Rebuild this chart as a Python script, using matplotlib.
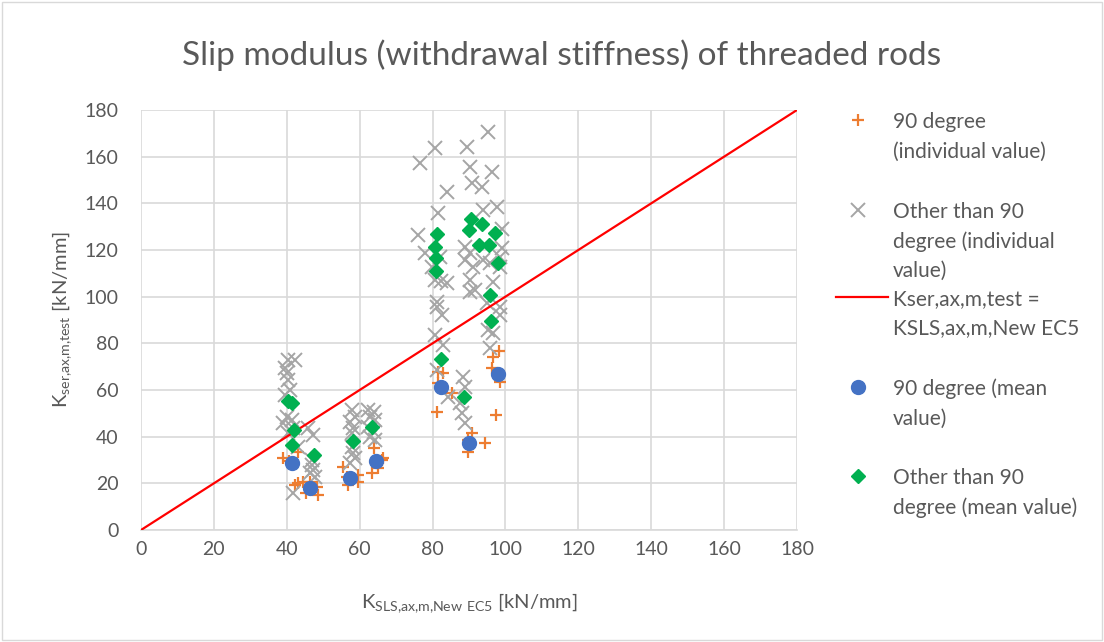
import matplotlib
matplotlib.use("Agg")
import matplotlib.pyplot as plt
from matplotlib.lines import Line2D
from matplotlib.patches import Rectangle

plt.rcParams['font.family'] = ['Lato', 'DejaVu Sans']
plt.rcParams['mathtext.default'] = 'regular'

TXT = '#595959'
GRID = '#d9d9d9'

# 90 degree, individual values
deg90_x = [39.0, 43.2, 40.5, 43.2, 44.5, 42.3, 45.3, 48.2, 48.7, 46.5,
           55.5, 56.4, 59.6, 59.6, 56.9, 63.8, 66.0, 65.1, 63.3, 66.5,
           81.6, 83.0, 81.6, 85.3, 81.1,
           89.8, 90.7, 94.4, 89.8, 98.3, 96.7, 96.2, 98.5, 97.4]
deg90_y = [30.7, 33.6, 29.5, 20.0, 20.7, 19.3, 15.7, 18.6, 15.0, 20.5,
           27.1, 22.8, 23.6, 20.7, 19.3, 35.0, 30.0, 26.4, 24.3, 31.0,
           67.9, 67.2, 62.9, 58.6, 50.7,
           38.6, 41.4, 37.1, 33.6, 76.9, 74.3, 69.3, 63.6, 49.3]

# other than 90 degree, individual values
other_x = [40.4, 42.3, 39.5, 40.0, 40.4, 40.9, 39.5, 40.0, 41.4, 39.0, 41.8, 40.4, 43.2, 41.8,
           45.9, 47.3, 46.8, 47.3, 46.4, 47.7, 47.0,
           57.8, 58.7, 57.4, 58.3, 57.8, 57.8, 58.3, 58.7, 57.4,
           62.4, 63.8, 62.8, 64.2, 62.4, 63.8, 62.8, 64.2,
           80.7, 76.6, 83.9, 81.6, 76.1, 77.9, 82.0, 79.8, 80.7, 83.9, 81.1,
           81.1, 82.5, 80.7, 83.0, 81.1, 84.3, 82.3,
           95.3, 89.4, 90.2, 96.2, 90.7, 93.5, 93.9, 97.6,
           88.9, 90.3, 88.9, 91.2, 93.9, 95.8, 98.5, 98.5, 90.3, 96.7, 90.3, 91.7, 94.9,
           98.5, 95.3, 96.7, 95.8, 88.4, 88.9, 87.5, 88.0, 88.9, 99.0, 99.0, 98.5]
other_y = [72.9, 72.9, 69.3, 67.1, 64.3, 60.0, 57.9, 48.6, 47.1, 45.7, 43.6, 41.4, 35.7, 16.0,
           43.6, 40.7, 27.9, 25.7, 24.3, 22.9, 30.0,
           51.4, 48.6, 46.4, 43.6, 41.4, 35.7, 32.9, 30.7, 28.6,
           51.4, 50.7, 48.6, 47.1, 44.3, 42.1, 40.0, 38.6,
           163.6, 157.1, 145.0, 135.7, 126.4, 118.6, 117.1, 112.9, 107.1, 105.7, 97.9,
           95.7, 92.1, 83.6, 79.3, 68.6, 57.1, 106.7,
           170.7, 164.3, 155.7, 153.6, 148.6, 147.1, 137.1, 138.6,
           121.4, 118.6, 115.7, 112.9, 115.7, 114.3, 117.1, 112.9, 107.1, 106.4, 102.1, 102.9, 97.1,
           95.7, 85.7, 84.3, 77.9, 65.7, 61.4, 54.3, 50.0, 45.7, 129.0, 121.0, 92.0]

# 90 degree, mean values
mean90_x = [41.5, 46.5, 57.4, 64.5, 82.2, 90.0, 97.9]
mean90_y = [28.8, 17.9, 22.5, 29.4, 61.3, 37.4, 66.9]

# other than 90 degree, mean values
mean_other_x = [40.3, 41.5, 42.0, 41.5, 47.4, 58.1, 63.3,
                81.3, 80.7, 80.9, 80.9, 82.2, 88.6,
                90.5, 90.0, 93.7, 97.0, 92.8, 95.5, 97.9, 95.8, 96.0]
mean_other_y = [55.5, 54.5, 42.9, 36.4, 32.1, 38.3, 44.0,
                126.7, 121.4, 116.4, 111.1, 73.2, 57.1,
                133.2, 128.6, 131.0, 127.4, 122.2, 122.2, 114.6, 100.7, 89.7]

ref_line = [0, 180]

fig = plt.figure(figsize=(11.04, 6.42), dpi=100)
ax = fig.add_axes([141 / 1104, 1 - 530 / 642, 656 / 1104, 420 / 642])

ax.plot(deg90_x, deg90_y, linestyle='none', marker='+', ms=9, mew=1.6, color='#ED7D31', zorder=3)
ax.plot(other_x, other_y, linestyle='none', marker='x', ms=9.5, mew=1.4, color='#A5A5A5', zorder=3)
ax.plot(ref_line, ref_line, color='#FF0000', lw=1.6, zorder=4)
ax.plot(mean90_x, mean90_y, linestyle='none', marker='o', ms=10, color='#4472C4', zorder=5)
ax.plot(mean_other_x, mean_other_y, linestyle='none', marker='D', ms=7, color='#00B050', zorder=6)

ax.set_xlim(0, 180)
ax.set_ylim(0, 180)
ax.set_xticks(range(0, 181, 20))
ax.set_yticks(range(0, 181, 20))
ax.grid(True, color=GRID, lw=1.2)
ax.set_axisbelow(True)
for s in ['top', 'right', 'left']:
    ax.spines[s].set_visible(False)
ax.spines['bottom'].set_color(GRID)
ax.spines['bottom'].set_linewidth(1.2)
ax.tick_params(length=0, labelsize=14, labelcolor=TXT)
ax.tick_params(axis='y', pad=16)
ax.tick_params(axis='x', pad=8)

ax.set_xlabel(r'K$_{SLS{,}ax{,}m{,}New\ EC5}$ [kN/mm]', fontsize=14.5, color=TXT, labelpad=24)
ax.set_ylabel(r'K$_{ser{,}ax{,}m{,}test}$ [kN/mm]', fontsize=14.5, color=TXT, labelpad=8)

fig.text(0.509, 1 - 55 / 642, 'Slip modulus (withdrawal stiffness) of threaded rods',
         ha='center', va='center', fontsize=24, color=TXT)

# legend, drawn by hand so the markers sit on the first text line
leg_entries = [
    (dict(marker='+', ms=9, mew=1.6, color='#ED7D31', linestyle='none'),
     ['90 degree', '(individual value)'], 120),
    (dict(marker='x', ms=9.5, mew=1.4, color='#A5A5A5', linestyle='none'),
     ['Other than 90', 'degree (individual', 'value)'], 210),
    (dict(color='#FF0000', lw=1.6),
     ['Kser,ax,m,test =', 'KSLS,ax,m,New EC5'], 297),
    (dict(marker='o', ms=10, color='#4472C4', linestyle='none'),
     ['90 degree (mean', 'value)'], 387),
    (dict(marker='D', ms=7, color='#00B050', linestyle='none'),
     ['Other than 90', 'degree (mean value)'], 476),
]
for style, lines, ypx in leg_entries:
    yf = 1 - ypx / 642
    if style.get('marker'):
        fig.add_artist(Line2D([858 / 1104], [yf], transform=fig.transFigure, **style))
    else:
        fig.add_artist(Line2D([836 / 1104, 888 / 1104], [yf, yf], transform=fig.transFigure, **style))
    for i, line in enumerate(lines):
        fig.text(893 / 1104, 1 - (ypx + i * 29.5) / 642, line, ha='left', va='center_baseline',
                 fontsize=15, color=TXT)

fig.add_artist(Rectangle((0.002, 0.003), 0.996, 0.994, transform=fig.transFigure,
                         fill=False, edgecolor=GRID, lw=1))

fig.savefig('out.png', dpi=100)
